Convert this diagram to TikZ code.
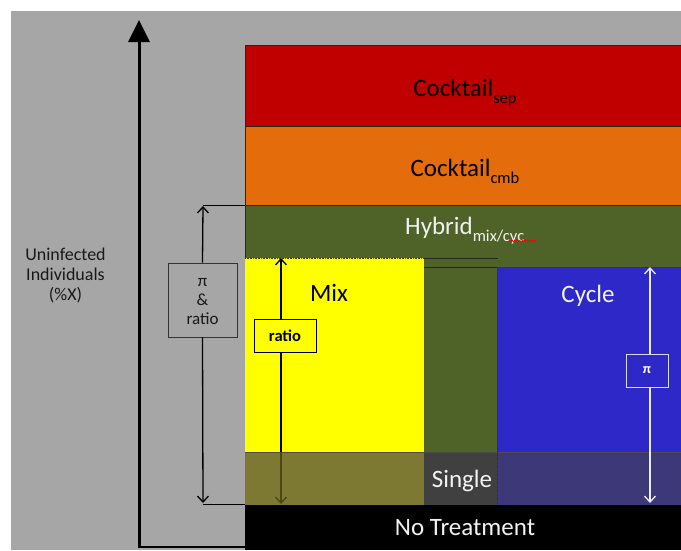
\documentclass[tikz,border=0pt]{standalone}
\usepackage{fontspec}
\setmainfont{Carlito}
\usetikzlibrary{arrows.meta,decorations.pathmorphing}
\definecolor{bg}{HTML}{A6A6A6}
\definecolor{cred}{HTML}{C00000}
\definecolor{corange}{HTML}{E46C0A}
\definecolor{colive}{HTML}{4F6228}
\definecolor{cyellow}{HTML}{FFFF00}
\definecolor{cblue}{HTML}{2E28C8}
\definecolor{byellow}{HTML}{7D7932}
\definecolor{bmid}{HTML}{404040}
\definecolor{bblue}{HTML}{3D3878}
\definecolor{arrolive}{HTML}{4C4816}
\definecolor{wtext}{HTML}{F2F2F2}
\tikzset{
  big/.style={font=\fontsize{25}{30}\selectfont, inner sep=0pt, anchor=base},
  small/.style={font=\fontsize{17.5}{21}\selectfont, align=center, inner sep=0pt},
  band/.style={draw=black!85, line width=0.8pt},
  brk/.style={line width=1.3pt, -{Straight Barb[length=6pt,width=11pt]}},
  thin/.style={line width=0.9pt},
  dotline/.style={line width=0.6pt, densely dotted, black!80},
}
\newcommand{\subtxt}[1]{\raisebox{-0.28em}{\fontsize{16.5}{20}\selectfont #1}}
\begin{document}
\begin{tikzpicture}[x=1pt,y=-1pt]
\useasboundingbox (0,0) rectangle (681,550);
\fill[bg] (11,11) rectangle (681,550);

% bands
\draw[band, fill=cred] (245,45) rectangle (683,126);
\draw[band, fill=corange] (245,126) rectangle (683,205);
\draw[band, fill=colive] (245,205) rectangle (683,452);
\fill[cyellow] (245,258) rectangle (424,452);
\fill[cblue] (497,267) rectangle (683,452);
\draw[dotline] (245,258) -- (424,258);
\draw[dotline] (497,267) -- (683,267);
\draw[dotline] (497,267) -- (497,505);
\draw[thin, black!85] (424,258) -- (498,258);
\draw[thin, black!85] (424,267) -- (497,267);

% mix arrow (drawn before lower band)
\coordinate (mt) at (281,258);
\coordinate (mb) at (281,504);
\draw[brk, {Straight Barb[length=6pt,width=11pt]}-{Straight Barb[length=6pt,width=11pt]}] (mt) -- (mb);

% lower band
\fill[byellow] (245,452) rectangle (424,505);
\fill[bmid] (424,452) rectangle (497,505);
\fill[bblue] (497,452) rectangle (683,505);
\draw[thin, black!70] (245,452) -- (683,452);
\draw[line width=1.3pt, arrolive, -{Straight Barb[length=6pt,width=11pt]}] (281,452) -- (mb);
\draw[dotline] (497,452) -- (497,505);

% no treatment
\fill[black] (245,505) rectangle (683,550);

% cycle arrow
\node[draw=white!85!blue, line width=1pt, fill=cblue, minimum width=42pt, minimum height=33pt, inner sep=0pt, font=\fontsize{14}{16}\selectfont\bfseries, text=white] (pibox) at (647,370.5) {π};
\coordinate (ct) at (650,267);
\coordinate (cb) at (650,503);
\draw[brk, white!92!blue] (650,354) -- (ct);
\draw[brk, white!92!blue] (650,387) -- (cb);

% ratio box
\node[draw=black, line width=1pt, fill=cyellow, minimum width=62pt, minimum height=33pt, inner sep=0pt, font=\fontsize{16.5}{18}\selectfont\bfseries] (rbox) at (285,335.5) {ratio};

% left bracket
\coordinate (lt) at (203,205);
\coordinate (lb) at (203,504);
\draw[thin] (lt) -- (245,205);
\draw[thin] (lb) -- (245,504);
\node[draw=black!80, line width=0.9pt, fill=bg, minimum width=69pt, minimum height=74pt, inner sep=0pt] (prbox) at (202.5,300) {};
\node[small, text=black!90, font=\fontsize{17}{20}\selectfont] (prtxt) at (202.5,302) {π\\[-1pt]\&\\[-1pt]ratio};
\draw[brk] (prbox.north) -- (203,206);
\draw[brk] (prbox.south) -- (203,503);

% axis
\coordinate (ax0) at (139,548);
\coordinate (ax1) at (139,20);
\draw[line width=3pt, -{Triangle[width=21pt,length=22pt]}] (ax0) -- (ax1);
\draw[line width=2pt] (138,547) -- (245,547);

% labels
\node[big] (csep) at (465,96) {Cocktail\subtxt{sep}};
\node[big] (ccmb) at (465,176) {Cocktail\subtxt{cmb}};
\node[big, anchor=base west, text=wtext] (hyb) at (405,234) {Hybrid\subtxt{mix/cyc}};
\draw[red, line width=0.6pt, decorate, decoration={snake, amplitude=0.7pt, segment length=2.5pt}] (509,241) -- (536,241);
\node[big, text=black] (mix) at (329,301) {Mix};
\node[big, text=wtext] (cyc) at (588,302) {Cycle};
\node[big, text=wtext] (sgl) at (462,487) {Single};
\node[big, text=wtext] (nt) at (465,535) {No Treatment};
\node[small, text=black!90, font=\fontsize{18}{21}\selectfont] (unf) at (65.5,275) {Uninfected\\[-1pt]Individuals\\[-1pt](\%X)};
\end{tikzpicture}
\end{document}
